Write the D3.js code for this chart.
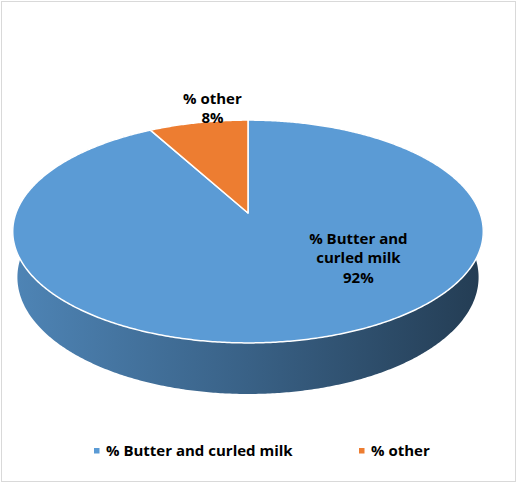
<!DOCTYPE html>
<html>
<head>
<meta charset="utf-8">
<script src="https://cdn.jsdelivr.net/npm/d3@7"></script>
<style>
  html, body { margin: 0; padding: 0; background: #ffffff; }
  svg { display: block; }
  text { font-family: "Open Sans", Lato, "Liberation Sans", sans-serif; font-weight: bold; fill: #000; }
</style>
</head>
<body>
<svg id="chart" width="517" height="483"></svg>
<script>
// ---- data ----
const categories = ["% Butter and curled milk", "% other"];
const values = [92, 8];
const colors = ["#5b9bd5", "#ed7d31"];
// label lines shown on slices (category text wrapped as in the picture)
const labelLines = [["% Butter and", "curled milk"], ["% other"]];

// ---- layout ----
const W = 517, H = 483;
const cx = 248, cy = 213;           // projected pie centre
const phi = Math.asin(0.467);       // camera elevation
const D = Math.cos(phi) / 0.166;    // camera distance (unit radius)
const f = 232 * D;                  // focal length (px)
const depth = 0.225;                // pie thickness (unit radius)
const labelAnchor = [[131, 0.59], [351, 1.168]]; // [deg, radius] for data labels

const svg = d3.select("#chart");

// border
svg.append("rect")
  .attr("x", 1.5).attr("y", 1.5)
  .attr("width", W - 3).attr("height", H - 3)
  .attr("fill", "#fff").attr("stroke", "#d9d9d9").attr("stroke-width", 1);

function project(theta, r, h) {
  const X = r * Math.sin(theta), Z = r * Math.cos(theta);
  const yc = Z * Math.sin(phi) + h * Math.cos(phi);
  const zc = D + Z * Math.cos(phi) - h * Math.sin(phi);
  return [cx + f * X / zc, cy - f * yc / zc];
}

function arcPoints(a0, a1, r, h) {
  const n = Math.max(2, Math.ceil(Math.abs(a1 - a0) / (Math.PI / 360)));
  return d3.range(n + 1).map(i => project(a0 + (a1 - a0) * i / n, r, h));
}

const pie = d3.pie().sort(null).value(d => d)(values);
const line = d3.line().curve(d3.curveLinear);

const defs = svg.append("defs");
pie.forEach((p, i) => {
  const base = d3.color(colors[i]);
  const g = defs.append("linearGradient")
    .attr("id", "side" + i)
    .attr("gradientUnits", "userSpaceOnUse")
    .attr("x1", project(-Math.PI / 2, 1, 0)[0]).attr("x2", project(Math.PI / 2, 1, 0)[0])
    .attr("y1", 0).attr("y2", 0);
  g.append("stop").attr("offset", "0%").attr("stop-color", base.darker(0.45));
  g.append("stop").attr("offset", "50%").attr("stop-color", base.darker(1.3));
  g.append("stop").attr("offset", "100%").attr("stop-color", base.darker(2.6));
});

// side walls, far ones first
const walls = pie.map((p, i) => ({ p, i, mid: Math.cos((p.startAngle + p.endAngle) / 2) }))
  .sort((a, b) => b.mid - a.mid);
svg.append("g").selectAll("path").data(walls).join("path")
  .attr("d", w => {
    const top = arcPoints(w.p.startAngle, w.p.endAngle, 1, 0);
    const bot = arcPoints(w.p.endAngle, w.p.startAngle, 1, -depth);
    return line(top.concat(bot)) + "Z";
  })
  .attr("fill", w => `url(#side${w.i})`);

// top faces
svg.append("g").selectAll("path").data(pie).join("path")
  .attr("d", p => line([project(0, 0, 0)].concat(arcPoints(p.startAngle, p.endAngle, 1, 0))) + "Z")
  .attr("fill", (p, i) => colors[i])
  .attr("stroke", "#fff").attr("stroke-width", 1.5).attr("stroke-linejoin", "round");

// data labels
const fs = 15, lh = 19.5;
pie.forEach((p, i) => {
  const [deg, r] = labelAnchor[i];
  const [lx, ly] = project(deg * Math.PI / 180, r, 0);
  const lines = labelLines[i].concat([d3.format(".0%")(values[i] / d3.sum(values))]);
  const t = svg.append("text").attr("text-anchor", "middle").attr("font-size", fs);
  const y0 = ly - (lines.length - 1) * lh / 2 + fs * 0.35;
  lines.forEach((s, k) => t.append("tspan").attr("x", lx).attr("y", y0 + k * lh).text(s));
});

// legend
const legendX = d3.scaleBand().domain(categories).range([94, 94 + 2 * 265]);
const lg = svg.append("g").selectAll("g").data(categories).join("g")
  .attr("transform", d => `translate(${legendX(d)},450.5)`);
lg.append("rect").attr("x", 0).attr("y", -2.5).attr("width", 5.5).attr("height", 5.5)
  .attr("fill", (d, i) => colors[i]);
lg.append("text").attr("x", 12).attr("y", 5.5).attr("font-size", fs).text(d => d);
</script>
</body>
</html>
